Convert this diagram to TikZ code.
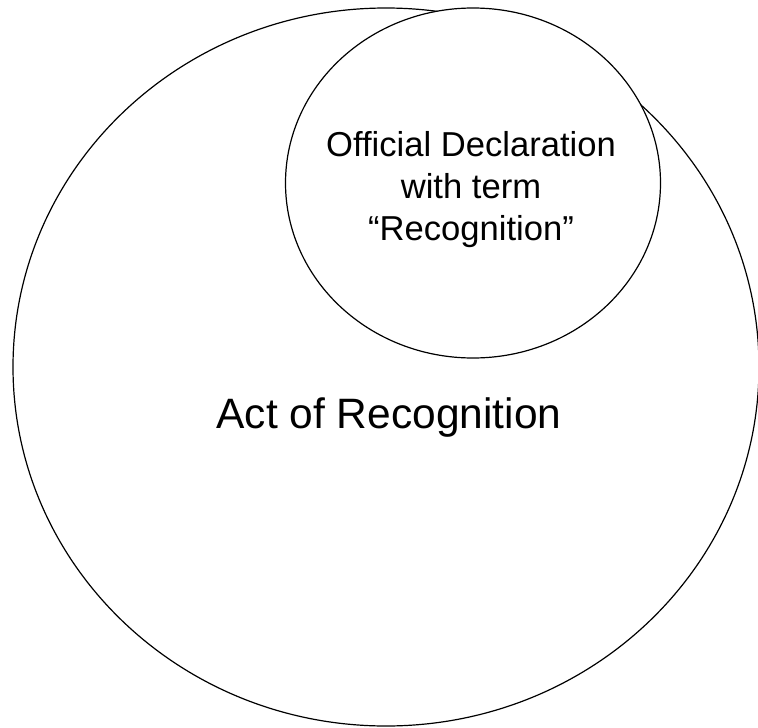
\documentclass[tikz,border=0pt]{standalone}
\usepackage{fontspec}
\setmainfont{Liberation Sans}
\begin{document}
\begin{tikzpicture}[x=1pt, y=-1pt,
  ring/.style={draw=black, line width=1.2pt},
  innerlabel/.style={font=\fontsize{34.6}{42}\selectfont, align=center, inner sep=0pt},
  outerlabel/.style={font=\fontsize{42.5}{50}\selectfont, inner sep=0pt}]
  \useasboundingbox (0,0) rectangle (758,728);
  % outer set
  \draw[ring] (386,367) ellipse [x radius=373, y radius=359];
  % inner set, filled so it hides the outer outline beneath it
  \filldraw[ring, fill=white] (473,183) ellipse [x radius=187.5, y radius=175];
  \node[innerlabel] (decl) at (471,190) {Official Declaration\\with term\\“Recognition”};
  \node[outerlabel, anchor=base] (act) at (389,428) {Act of Recognition};
\end{tikzpicture}
\end{document}
